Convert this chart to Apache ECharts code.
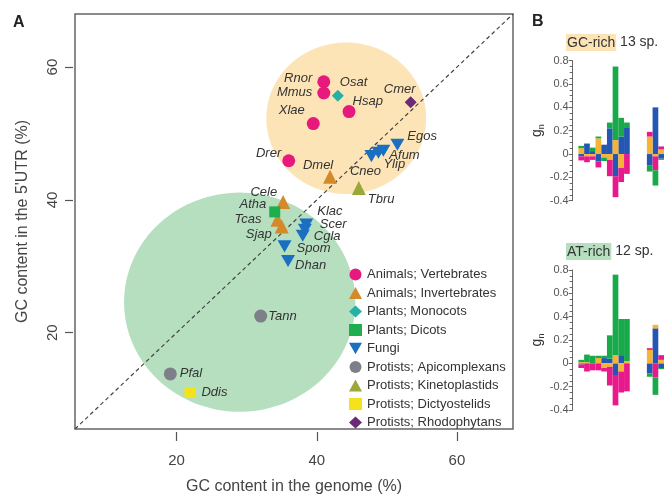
<!DOCTYPE html>
<html>
<head>
<meta charset="utf-8">
<title>GC content of 5'UTRs</title>
<script src="https://cdn.jsdelivr.net/npm/echarts@6.0.0/dist/echarts.min.js"></script>
<style>
  html, body { margin: 0; padding: 0; background: #fff; }
  #chart { width: 664px; height: 500px; }
</style>
</head>
<body>
<div id="chart"></div>
<script>
const FONT = '"Liberation Sans", Arial, Helvetica, sans-serif';

// ---- Panel A: genome GC vs 5'UTR GC ----
const groups = [
  'Animals; Vertebrates', 'Animals; Invertebrates', 'Plants; Monocots', 'Plants; Dicots', 'Fungi',
  'Protists; Apicomplexans', 'Protists; Kinetoplastids', 'Protists; Dictyostelids', 'Protists; Rhodophytans'
];
const species     = ['Rnor','Mmus','Xlae','Hsap','Drer','Dmel','Cele','Tcas','Sjap','Osat','Atha','Egos','Afum','Ylip','Cneo','Klac','Scer','Cgla','Spom','Dhan','Tann','Pfal','Tbru','Ddis','Cmer'];
const genomeGC    = [41.0, 41.0, 39.5, 44.6, 36.0, 41.9, 35.2, 34.4, 35.0, 43.0, 34.0, 51.5, 49.5, 48.8, 47.8, 38.5, 38.3, 38.0, 35.4, 35.9, 32.0, 19.1, 46.0, 21.9, 53.4];
const utrGC       = [57.8, 56.1, 51.5, 53.3, 45.9, 43.5, 39.7, 37.0, 36.0, 55.7, 38.2, 48.3, 47.4, 47.1, 46.6, 36.3, 35.5, 34.6, 33.0, 30.8, 22.5, 13.8, 41.8, 11.0, 54.7];
const speciesGroup = [0, 0, 0, 0, 0, 1, 1, 1, 1, 2, 3, 4, 4, 4, 4, 4, 4, 4, 4, 4, 5, 5, 6, 7, 8];
const axisTickValues = [20, 40, 60];

// shaded GC-rich / AT-rich zones (centre and radius in % units)
const zoneX = [44.2, 29.0];
const zoneY = [52.3, 24.6];
const zoneR = [11.4, 16.5];

// ---- Panel B: g_n per position ----
const positions = [0, 1, 2, 3, 4, 5, 6, 7, 8, 9, 10, 11, 12, 13, 14, 15];
const gcBlue   = [null, -0.02, 0.09, 0.025, -0.065, 0.08, 0.22, -0.19, 0.15, 0.23, null, null, null, -0.095, 0.40, -0.04];
const gcOrange = [null, 0.05, -0.02, -0.02, 0.135, -0.03, -0.05, 0.12, -0.12, 0, null, null, null, 0.15, -0.02, 0.04];
const gcPink   = [null, -0.035, -0.05, -0.03, -0.05, 0, -0.14, -0.18, -0.12, -0.17, null, null, null, 0.04, -0.12, 0.025];
const gcGreen  = [null, 0.02, 0, 0.03, 0.015, -0.03, 0.05, 0.63, 0.16, 0.04, null, null, null, -0.055, -0.13, -0.01];

const atBlue   = [null, -0.01, 0, 0, 0, 0.045, 0.04, -0.10, 0.07, 0, null, null, null, -0.085, 0.30, -0.04];
const atOrange = [null, 0.01, 0.01, 0, 0.045, -0.04, -0.03, 0.07, -0.07, 0.02, null, null, null, 0.115, 0.03, 0.03];
const atPink   = [null, -0.03, -0.07, -0.06, -0.06, -0.03, -0.16, -0.26, -0.18, -0.24, null, null, null, 0.015, -0.12, 0.04];
const atGreen  = [null, 0.02, 0.065, 0.065, 0.02, 0.02, 0.20, 0.69, 0.31, 0.36, null, null, null, -0.03, -0.15, -0.01];

// ---- styling ----
const groupColors = ['#e8197d', '#d4892b', '#27b0a3', '#1fae4d', '#1b6fc0', '#7d8088', '#9aa83a', '#f6e21c', '#6a2a78'];
const TRI_DOWN = 'path://M0,0L10,0L5,8.66Z';
const groupSymbols = ['circle', 'triangle', 'diamond', 'rect', TRI_DOWN, 'circle', 'triangle', 'rect', 'diamond'];
const groupSizes   = [13, 14, 12, 11, 14, 13, 14, 11, 12];
const zoneColors = ['#fde4b6', '#b6dfc0'];
const nucColors = { blue: '#2456b3', orange: '#f7b334', pink: '#e8198b', green: '#18a94b' };

// label placement per species: [position, dx, dy]
const labelPlace = {
  Rnor: ['left', 0, -3], Mmus: ['left', 0, -1], Xlae: ['left', 3, -13], Hsap: ['right', -8, -10],
  Drer: ['left', 4, -7], Dmel: ['top', -12, 7], Cele: ['left', 6, -10], Tcas: ['left', -4, 0],
  Sjap: ['left', 2, 8], Osat: ['right', -9, -13], Atha: ['left', 2, -7], Egos: ['right', -2, -8],
  Afum: ['right', -6, 5], Ylip: ['right', -7, 12], Cneo: ['bottom', -6, -2], Klac: ['right', -1, -13],
  Scer: ['right', 3, -5], Cgla: ['right', -1, 1], Spom: ['right', 0, 2], Dhan: ['right', -5, 4],
  Tann: ['right', -4, 0], Pfal: ['right', -2, 0], Tbru: ['right', -3, 11], Ddis: ['right', 1, 0],
  Cmer: ['top', -11, 5]
};

// zone discs drawn as polygons through the axis scales
const zoneSeries = {
  type: 'custom',
  xAxisIndex: 0, yAxisIndex: 0,
  z: 1,
  silent: true,
  data: zoneX.map((x, i) => [x, zoneY[i], zoneR[i]]),
  renderItem: function (params, api) {
    const cx = api.value(0), cy = api.value(1), r = api.value(2);
    const pts = [];
    for (let k = 0; k < 160; k++) {
      const t = k / 160 * Math.PI * 2;
      pts.push(api.coord([cx + r * Math.cos(t), cy + r * Math.sin(t)]));
    }
    return { type: 'polygon', shape: { points: pts }, style: { fill: zoneColors[params.dataIndex] } };
  }
};

const diagonal = {
  type: 'line',
  xAxisIndex: 0, yAxisIndex: 0,
  z: 2,
  silent: true,
  symbol: 'none',
  data: [[5.5, 5.5], [68, 68]],
  lineStyle: { color: '#444', width: 1.2, type: [4, 3] }
};

const scatterSeries = groups.map((g, gi) => ({
  type: 'scatter',
  name: g,
  xAxisIndex: 0, yAxisIndex: 0,
  z: 3,
  symbol: groupSymbols[gi],
  symbolSize: groupSizes[gi],
  symbolKeepAspect: true,
  itemStyle: { color: groupColors[gi], opacity: 1 },
  data: species.map((s, i) => ({ s, i })).filter(o => speciesGroup[o.i] === gi).map(o => {
    const p = labelPlace[o.s];
    return {
      name: o.s,
      value: [genomeGC[o.i], utrGC[o.i]],
      label: {
        show: true, formatter: o.s, position: p[0], offset: [p[1], p[2]],
        fontStyle: 'italic', fontSize: 13, color: '#333', fontFamily: FONT
      }
    };
  })
}));

function barSeries(values, color, axisIdx, stackName) {
  return {
    type: 'bar',
    xAxisIndex: axisIdx, yAxisIndex: axisIdx,
    stack: stackName,
    barWidth: '100%',
    barCategoryGap: '0%',
    silent: true,
    itemStyle: { color: color },
    data: values
  };
}

const bAxisY = (idx) => ({
  type: 'value', gridIndex: idx,
  min: -0.4, max: 0.8, interval: 0.2,
  name: '{g|g}{n|n}',
  nameLocation: 'middle', nameGap: 27, nameRotate: 90,
  nameTextStyle: {
    fontFamily: FONT, color: '#333',
    rich: {
      g: { fontSize: 14, lineHeight: 18, color: '#333', fontFamily: FONT },
      n: { fontSize: 9, lineHeight: 9, verticalAlign: 'bottom', color: '#333', fontFamily: FONT }
    }
  },
  axisLine: { show: true, lineStyle: { color: '#666', width: 1 } },
  axisTick: { show: true, length: 4, lineStyle: { color: '#666' } },
  minorTick: { show: true, splitNumber: 4, length: 3, lineStyle: { color: '#666' } },
  splitLine: { show: false },
  axisLabel: {
    fontSize: 11, color: '#555', fontFamily: FONT, margin: 4,
    formatter: v => Math.abs(v) < 1e-9 ? '0' : v.toFixed(1)
  }
});

const bAxisX = idx => ({
  type: 'category', gridIndex: idx, data: positions, show: false,
  axisTick: { show: false }, axisLine: { show: false }
});

const option = {
  animation: false,
  backgroundColor: '#fff',
  textStyle: { fontFamily: FONT },
  title: [
    {
      text: '{hl|GC-rich} 13 sp.', left: 566, top: 34, padding: 0,
      textStyle: { fontSize: 14, fontWeight: 'normal', color: '#333', fontFamily: FONT,
        rich: { hl: { backgroundColor: zoneColors[0], padding: [2, 1, 1, 1], fontSize: 14, color: '#333', fontFamily: FONT } } }
    },
    {
      text: '{hl|AT-rich} 12 sp.', left: 566, top: 243, padding: 0,
      textStyle: { fontSize: 14, fontWeight: 'normal', color: '#333', fontFamily: FONT,
        rich: { hl: { backgroundColor: zoneColors[1], padding: [2, 1, 1, 1], fontSize: 14, color: '#333', fontFamily: FONT } } }
    }
  ],
  graphic: [
    { type: 'text', left: 13, top: 15, style: { text: 'A', font: 'bold 16px ' + FONT, fill: '#222' } },
    { type: 'text', left: 532, top: 14, style: { text: 'B', font: 'bold 16px ' + FONT, fill: '#222' } }
  ],
  legend: {
    orient: 'vertical',
    left: 349, top: 268,
    itemWidth: 13, itemHeight: 12, itemGap: 5.5,
    padding: 0,
    textStyle: { fontSize: 13, color: '#333', fontFamily: FONT, padding: [0, 0, 0, 0] },
    data: groups.map((g, i) => ({ name: g, icon: groupSymbols[i] }))
  },
  grid: [
    { left: 75, top: 14, width: 438, height: 421, show: true, borderColor: '#666', borderWidth: 1.5, backgroundColor: 'transparent' },
    { left: 572.7, top: 60.7, right: 0, height: 140 },
    { left: 572.7, top: 270, right: 0, height: 140 }
  ],
  xAxis: [
    {
      type: 'value', gridIndex: 0, min: 5.5, max: 68,
      offset: 3,
      name: 'GC content in the genome (%)', nameLocation: 'middle', nameGap: 47,
      nameTextStyle: { fontSize: 16, color: '#444', fontFamily: FONT },
      axisLine: { show: false },
      axisTick: { show: true, length: 9, customValues: axisTickValues, lineStyle: { color: '#555', width: 1.2 } },
      axisLabel: { customValues: axisTickValues, fontSize: 15, color: '#444', margin: 21, fontFamily: FONT },
      splitLine: { show: false }
    },
    bAxisX(1),
    bAxisX(2)
  ],
  yAxis: [
    {
      type: 'value', gridIndex: 0, min: 5.5, max: 68,
      offset: 2,
      name: "GC content in the 5'UTR (%)", nameLocation: 'middle', nameGap: 42, nameRotate: 90,
      nameTextStyle: { fontSize: 16, color: '#444', fontFamily: FONT },
      axisLine: { show: false },
      axisTick: { show: true, length: 8, customValues: axisTickValues, lineStyle: { color: '#555', width: 1.2 } },
      axisLabel: { customValues: axisTickValues, rotate: 90, fontSize: 15, color: '#444', margin: 13, fontFamily: FONT },
      splitLine: { show: false }
    },
    bAxisY(1),
    bAxisY(2)
  ],
  series: [
    zoneSeries,
    diagonal,
    ...scatterSeries,
    barSeries(gcBlue, nucColors.blue, 1, 'gc'),
    barSeries(gcOrange, nucColors.orange, 1, 'gc'),
    barSeries(gcPink, nucColors.pink, 1, 'gc'),
    barSeries(gcGreen, nucColors.green, 1, 'gc'),
    barSeries(atBlue, nucColors.blue, 2, 'at'),
    barSeries(atOrange, nucColors.orange, 2, 'at'),
    barSeries(atPink, nucColors.pink, 2, 'at'),
    barSeries(atGreen, nucColors.green, 2, 'at')
  ]
};

const chart = echarts.init(document.getElementById('chart'), null, { renderer: 'canvas' });
chart.setOption(option);
</script>
</body>
</html>
